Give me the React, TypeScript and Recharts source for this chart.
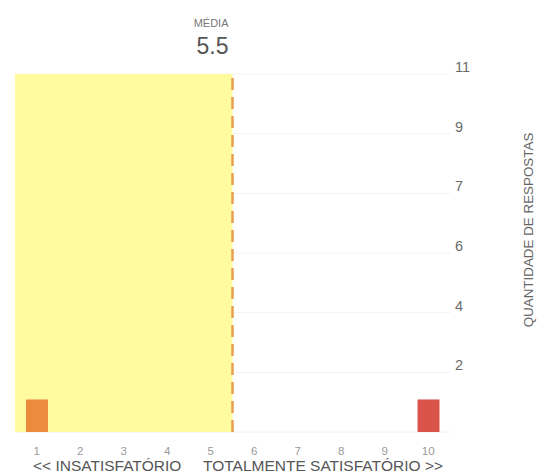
import React from "react";
import {
  ComposedChart,
  Bar,
  Cell,
  XAxis,
  YAxis,
  CartesianGrid,
  ReferenceArea,
  ReferenceLine,
} from "recharts";

const scores = [1, 2, 3, 4, 5, 6, 7, 8, 9, 10];
const counts = [1, 0, 0, 0, 0, 0, 0, 0, 0, 1];
const barColors = ["#EE8A3C", "#EE8A3C", "#EE8A3C", "#EE8A3C", "#EE8A3C", "#D9534A", "#D9534A", "#D9534A", "#D9534A", "#D9534A"];
const mean = 5.5;
const yMax = 11;
const yTickValues = [11 / 6, 22 / 6, 33 / 6, 44 / 6, 55 / 6, 11];
const yTickLabels = ["2", "4", "6", "7", "9", "11"];
const leftCaption = "<< INSATISFATÓRIO";
const rightCaption = "TOTALMENTE SATISFATÓRIO >>";
const yTitle = "QUANTIDADE DE RESPOSTAS";

const data = scores.map((s, i) => ({ score: s, count: counts[i] }));

const FONT = "'Liberation Sans', Arial, Helvetica, sans-serif";

const YTick = (props: any) => {
  const { x, y, index } = props;
  return (
    <text x={x} y={y - 7} dy="0.35em" textAnchor="start" fill="#6a6a6a" fontSize={14.5} fontFamily={FONT}>
      {yTickLabels[index]}
    </text>
  );
};

const XTick = (props: any) => {
  const { x, y, payload } = props;
  return (
    <text x={x} y={y + 11} dy="0.35em" textAnchor="middle" fill="#9a9a9a" fontSize={11.5} fontFamily={FONT}>
      {payload.value}
    </text>
  );
};

const MeanLabel = (props: any) => {
  const vb = props.viewBox || {};
  const x = (vb.x ?? 0) - 4;
  return (
    <g>
      <text x={x} y={23} dy="0.35em" textAnchor="end" fill="#777" fontSize={11} fontFamily={FONT}>
        MÉDIA
      </text>
      <text x={x} y={46} dy="0.35em" textAnchor="end" fill="#555" fontSize={23} fontFamily={FONT}>
        {String(mean)}
      </text>
    </g>
  );
};

export default function App() {
  return (
    <div style={{ position: "absolute", left: 0, top: 0, width: 537, height: 476, background: "#fff" }}>
      <ComposedChart
        width={537}
        height={476}
        data={data}
        margin={{ top: 74, right: 0, bottom: 0, left: 15 }}
      >
        <CartesianGrid horizontal vertical={false} stroke="#f2f2f2" />
        <ReferenceArea x1={0.5} x2={mean} y1={0} y2={yMax} fill="#FFFB9E" fillOpacity={1} stroke="none" ifOverflow="extendDomain" />
        <XAxis
          dataKey="score"
          type="number"
          domain={[0.5, 10.5]}
          ticks={scores}
          axisLine={false}
          tickLine={false}
          height={44}
          tick={<XTick />}
          interval={0}
        />
        <YAxis
          orientation="right"
          type="number"
          domain={[0, yMax]}
          ticks={yTickValues}
          axisLine={false}
          tickLine={false}
          tickSize={0}
          tickMargin={5}
          width={87}
          tick={<YTick />}
          interval={0}
        />
        <Bar dataKey="count" barSize={22} isAnimationActive={false}>
          {data.map((d, i) => (
            <Cell key={i} fill={barColors[i]} />
          ))}
        </Bar>
        <ReferenceLine
          x={mean}
          stroke="#E9A04E"
          strokeWidth={2.5}
          strokeDasharray="12 7"
          label={<MeanLabel />}
        />
        <text x={33} y={466} dy="0.35em" textAnchor="start" fill="#555" fontSize={15.5} fontFamily={FONT}>
          {leftCaption}
        </text>
        <text x={443} y={466} dy="0.35em" textAnchor="end" fill="#555" fontSize={15.5} fontFamily={FONT}>
          {rightCaption}
        </text>
        <text
          x={528}
          y={230}
          dy="0.35em"
          textAnchor="middle"
          fill="#666"
          fontSize={13.4}
          fontFamily={FONT}
          transform="rotate(-90 528 230)"
        >
          {yTitle}
        </text>
      </ComposedChart>
    </div>
  );
}
